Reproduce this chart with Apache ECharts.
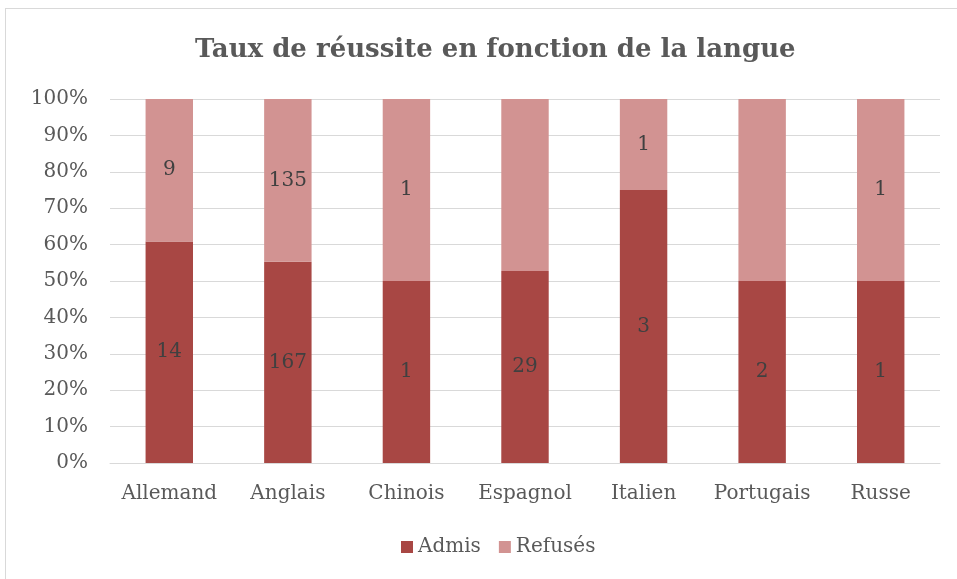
<!DOCTYPE html>
<html>
<head>
<meta charset="utf-8">
<script src="https://cdn.jsdelivr.net/npm/echarts@6/dist/echarts.min.js"></script>
<style>
    html, body { margin: 0; padding: 0; background: #fff; }
    #box { position: absolute; left: 5px; top: 8px; width: 960px; height: 580px; border: 1px solid #d9d9d9; box-sizing: border-box; }
    #chart { position: absolute; left: 0; top: 0; width: 957px; height: 579px; }
</style>
</head>
<body>
<div id="box"></div>
<div id="chart"></div>
<script>
var langues = ['Allemand', 'Anglais', 'Chinois', 'Espagnol', 'Italien', 'Portugais', 'Russe'];
var admis = [14, 167, 1, 29, 3, 2, 1];
var refuses = [9, 135, 1, 26, 1, 2, 1];
// étiquettes absentes sur l'original
var refusesSansEtiquette = ['Espagnol', 'Portugais'];

(function () {
    var chartDom = document.getElementById('chart');
    var myChart = echarts.init(chartDom);
    var police = 'DejaVu Serif';

    function pct(arr, i) {
        return arr[i] / (admis[i] + refuses[i]) * 100;
    }

    var dataAdmis = langues.map(function (l, i) {
        return { value: pct(admis, i), brut: admis[i] };
    });
    var dataRefuses = langues.map(function (l, i) {
        var d = { value: pct(refuses, i), brut: refuses[i] };
        if (refusesSansEtiquette.indexOf(l) >= 0) d.label = { show: false };
        return d;
    });

    var etiquette = {
        show: true,
        position: 'inside',
        color: '#404040',
        fontFamily: police,
        fontSize: 20,
        formatter: function (p) { return p.data.brut; }
    };

    var option = {
        animation: false,
        title: {
            text: 'Taux de réussite en fonction de la langue',
            left: 190,
            top: 32,
            textStyle: {
                color: '#595959',
                fontFamily: police,
                fontWeight: 'bold',
                fontSize: 26
            }
        },
        legend: {
            bottom: 17,
            left: 396,
            itemWidth: 12,
            itemHeight: 12,
            itemGap: 18,
            icon: 'rect',
            textStyle: { color: '#595959', fontFamily: police, fontSize: 20 },
            data: ['Admis', 'Refusés']
        },
        grid: {
            left: 110,
            right: 17,
            top: 99,
            bottom: 116
        },
        xAxis: {
            type: 'category',
            data: langues,
            axisLine: { lineStyle: { color: '#d9d9d9', width: 1 } },
            axisTick: { show: false },
            axisLabel: { interval: 0, color: '#595959', fontFamily: police, fontSize: 20, margin: 21 }
        },
        yAxis: {
            type: 'value',
            min: 0,
            max: 100,
            interval: 10,
            axisLine: { show: false },
            axisTick: { show: false },
            splitLine: { lineStyle: { color: '#d9d9d9', width: 1 } },
            axisLabel: {
                color: '#595959',
                fontFamily: police,
                fontSize: 20,
                margin: 22,
                formatter: '{value}%'
            }
        },
        series: [
            {
                name: 'Admis',
                type: 'bar',
                stack: 'total',
                barWidth: '40%',
                data: dataAdmis,
                itemStyle: { color: '#a84744' },
                label: etiquette
            },
            {
                name: 'Refusés',
                type: 'bar',
                stack: 'total',
                data: dataRefuses,
                itemStyle: { color: '#d29392' },
                label: etiquette
            }
        ]
    };

    option && myChart.setOption(option);
})();
</script>
</body>
</html>
